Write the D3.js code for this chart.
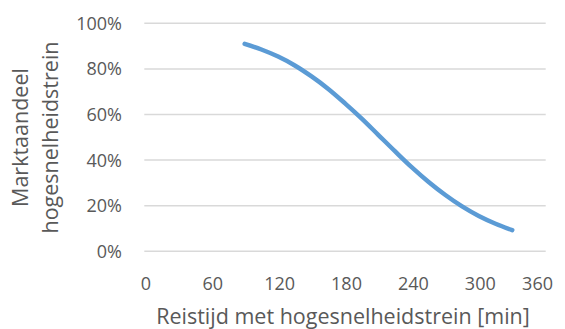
<!DOCTYPE html>
<html>
<head>
<meta charset="utf-8">
<script src="https://cdn.jsdelivr.net/npm/d3@7"></script>
<style>
  html, body { margin: 0; padding: 0; background: #fff; }
  svg text { font-family: "Open Sans", Lato, sans-serif; fill: #595959; }
</style>
</head>
<body>
<svg id="chart" width="565" height="329"></svg>
<script>
// Data
const travelTime = [90, 105, 120, 135, 150, 165, 180, 195, 210, 225, 240, 255, 270, 285, 300, 315, 330]; // minutes
const marketShare = [0.910, 0.885, 0.854, 0.815, 0.767, 0.712, 0.649, 0.582, 0.510, 0.438, 0.368, 0.304, 0.247, 0.197, 0.155, 0.121, 0.093];
const xTicks = [0, 60, 120, 180, 240, 300, 360];
const yTicks = [0, 0.2, 0.4, 0.6, 0.8, 1.0];
const xTitle = "Reistijd met hogesnelheidstrein [min]";
const yTitleLines = ["Marktaandeel", "hogesnelheidstrein"];

(function () {
const svg = d3.select("#chart");
const mLeft = 144.3, mRight = 545.7, mTop = 23.3, mBottom = 251.3;

const x = d3.scaleLinear().domain([0, 360]).range([mLeft, mRight]);
const y = d3.scaleLinear().domain([0, 1]).range([mBottom, mTop]);

// gridlines
svg.append("g").selectAll("line").data(yTicks).join("line")
  .attr("x1", mLeft).attr("x2", mRight)
  .attr("y1", d => y(d)).attr("y2", d => y(d))
  .attr("stroke", "#d9d9d9").attr("stroke-width", 1.5);

// y tick labels
svg.append("g").selectAll("text").data(yTicks).join("text")
  .attr("x", 122).attr("y", d => y(d)).attr("dy", "0.36em")
  .attr("text-anchor", "end").attr("font-size", 18)
  .text(d => d3.format(".0%")(d));

// x tick labels (last one kept inside the chart area, as in the source)
svg.append("g").selectAll("text").data(xTicks).join("text")
  .attr("x", (d, i) => i === xTicks.length - 1 ? 553 : x(d) + 1.5)
  .attr("text-anchor", (d, i) => i === xTicks.length - 1 ? "end" : "middle")
  .attr("y", 290).attr("font-size", 18)
  .text(d => d);

// x title
svg.append("text").attr("x", 343).attr("y", 324)
  .attr("text-anchor", "middle").attr("font-size", 21.5)
  .text(xTitle);

// y title (two lines, rotated)
const yt = svg.append("text").attr("transform", "translate(0,137.5) rotate(-90)")
  .attr("text-anchor", "middle").attr("font-size", 21.5);
yt.selectAll("tspan").data(yTitleLines).join("tspan")
  .attr("x", 0).attr("y", (d, i) => 28 + i * 30)
  .text(d => d);

// line
const line = d3.line()
  .x((d, i) => x(travelTime[i]))
  .y(d => y(d))
  .curve(d3.curveCatmullRom);
svg.append("path").datum(marketShare)
  .attr("d", line)
  .attr("fill", "none").attr("stroke", "#5b9bd5")
  .attr("stroke-width", 4.5).attr("stroke-linecap", "round");
})();
</script>
</body>
</html>
